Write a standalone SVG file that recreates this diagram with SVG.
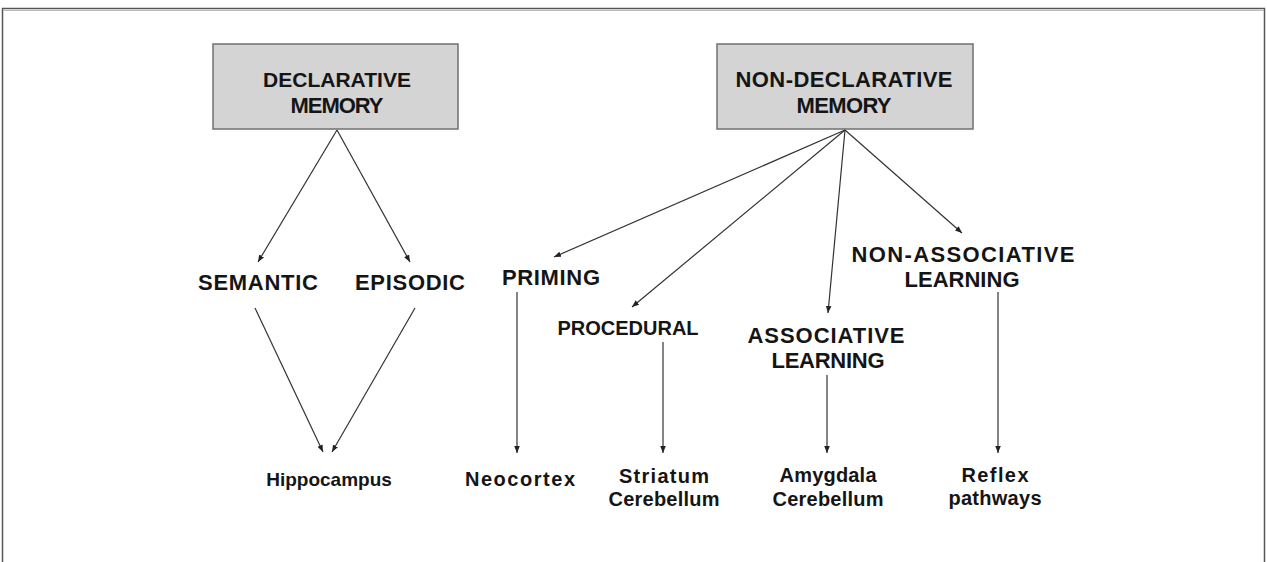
<svg xmlns="http://www.w3.org/2000/svg" width="1267" height="562" viewBox="0 0 1267 562">
<style>
.box{fill:#d4d4d4;stroke:#707070;stroke-width:1.5}
.cap{font-family:"Liberation Sans",Arial,sans-serif;font-weight:bold;font-size:22px;fill:#151515;text-anchor:middle}
.low{font-family:"Liberation Sans",Arial,sans-serif;font-weight:bold;font-size:20px;fill:#151515;text-anchor:middle}
.ln{stroke:#333;stroke-width:1.2;fill:none;marker-end:url(#ah)}
</style>
<defs>
<marker id="ah" viewBox="0 0 10 10" refX="10" refY="5" markerWidth="7" markerHeight="7" markerUnits="userSpaceOnUse" orient="auto">
<path d="M0,1 L10,5 L0,9 Z" fill="#222"/>
</marker>
</defs>
<rect x="0" y="0" width="1267" height="562" fill="#fff"/>
<rect x="2.5" y="8.5" width="1262" height="570" fill="none" stroke="#555" stroke-width="1.5"/>
<line x1="3" y1="10.5" x2="1264" y2="10.5" stroke="#bbb" stroke-width="1"/>

<g id="declarative">
<rect class="box" x="213" y="44" width="245" height="85"/>
<text class="cap" x="337" y="87" style="font-size:21px">DECLARATIVE</text>
<text class="cap" x="337" y="113" textLength="93">MEMORY</text>
</g>
<g id="nondeclarative">
<rect class="box" x="717" y="44" width="256" height="85"/>
<text class="cap" x="844" y="87" textLength="217">NON-DECLARATIVE</text>
<text class="cap" x="844" y="113" textLength="95">MEMORY</text>
</g>
<g id="semantic"><text class="cap" x="258" y="290" textLength="120">SEMANTIC</text></g>
<g id="episodic"><text class="cap" x="410" y="290" textLength="110">EPISODIC</text></g>
<g id="priming"><text class="cap" x="551" y="285" textLength="98">PRIMING</text></g>
<g id="procedural"><text class="cap" x="628" y="335" style="font-size:20px">PROCEDURAL</text></g>
<g id="associative"><text class="cap" x="826" y="343" textLength="157">ASSOCIATIVE</text><text class="cap" x="828" y="368" textLength="113">LEARNING</text></g>
<g id="nonassociative"><text class="cap" x="963" y="262" textLength="223">NON-ASSOCIATIVE</text><text class="cap" x="962" y="287" textLength="115">LEARNING</text></g>
<g id="hippocampus"><text class="low" x="329" y="486" style="font-size:19px">Hippocampus</text></g>
<g id="neocortex"><text class="low" x="520" y="486" textLength="110">Neocortex</text></g>
<g id="striatum"><text class="low" x="664" y="483" textLength="90">Striatum</text><text class="low" x="664" y="506" textLength="111">Cerebellum</text></g>
<g id="amygdala"><text class="low" x="828" y="482" textLength="97">Amygdala</text><text class="low" x="828" y="506" textLength="111">Cerebellum</text></g>
<g id="reflex"><text class="low" x="995" y="482" textLength="67">Reflex</text><text class="low" x="995" y="505" textLength="93">pathways</text></g>

<g id="connectors">
<line class="ln" x1="337" y1="130" x2="258" y2="262"/>
<line class="ln" x1="337" y1="130" x2="410" y2="262"/>
<line class="ln" x1="255" y1="308" x2="323" y2="452"/>
<line class="ln" x1="415" y1="308" x2="332" y2="452"/>
<line class="ln" x1="845" y1="130" x2="554" y2="257"/>
<line class="ln" x1="845" y1="130" x2="632" y2="307"/>
<line class="ln" x1="845" y1="130" x2="828" y2="313"/>
<line class="ln" x1="845" y1="130" x2="962" y2="233"/>
<line class="ln" x1="517" y1="292" x2="517" y2="453"/>
<line class="ln" x1="663" y1="342" x2="663" y2="453"/>
<line class="ln" x1="827" y1="375" x2="827" y2="453"/>
<line class="ln" x1="998" y1="292" x2="998" y2="453"/>
</g>
</svg>
